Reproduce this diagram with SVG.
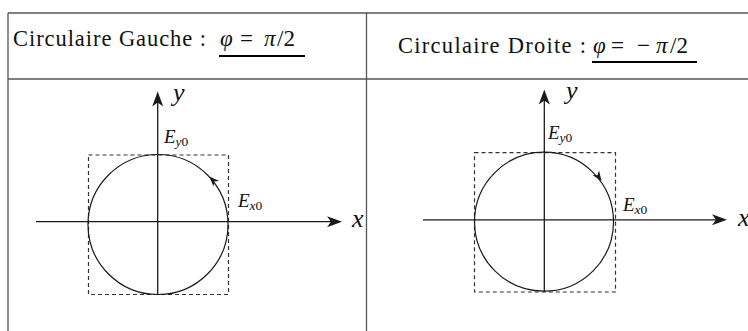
<svg xmlns="http://www.w3.org/2000/svg" width="748" height="331" viewBox="0 0 748 331">
<style>
.tbl{stroke:#555;stroke-width:1.3;fill:none}
.ax{stroke:#1a1a1a;stroke-width:1.3;fill:none}
.circ{stroke:#1a1a1a;stroke-width:1.2;fill:none}
.dash{stroke:#333;stroke-width:1.2;fill:none;stroke-dasharray:4 3}
.head{fill:#1a1a1a;stroke:none}
.ul{stroke:#000;stroke-width:2}
</style>
<defs>
<path id="bigHead" d="M0,0 L-15,-5.5 L-11,0 L-15,5.5 Z"/>
<path id="smallHead" d="M0,0 L-10,-4 L-7,0 L-10,4 Z"/>
</defs>
<rect width="748" height="331" fill="#fff"/>
<g id="table">
<line class="tbl" x1="8" y1="13" x2="748" y2="13"/>
<line class="tbl" x1="8" y1="79" x2="748" y2="79"/>
<line class="tbl" x1="8" y1="13" x2="8" y2="331"/>
<line class="tbl" x1="366.5" y1="13" x2="366.5" y2="331"/>
</g>
<g id="header-left" fill="#111">
<text x="13" y="46" font-family="Liberation Serif" font-size="22.5" textLength="193" lengthAdjust="spacing">Circulaire Gauche :</text>
<text x="220" y="46" font-family="Liberation Serif" font-size="23"><tspan font-style="italic">φ</tspan><tspan x="240">=</tspan><tspan font-style="italic" x="264">π</tspan><tspan x="277">/2</tspan></text>
<line class="ul" x1="219" y1="56" x2="305" y2="56"/>
</g>
<g id="header-right" fill="#111">
<text x="398" y="53" font-family="Liberation Serif" font-size="22.5" textLength="188" lengthAdjust="spacing">Circulaire Droite :</text>
<text x="593" y="53" font-family="Liberation Serif" font-size="23"><tspan font-style="italic">φ</tspan><tspan x="611">=</tspan><tspan x="637">−</tspan><tspan font-style="italic" x="656">π</tspan><tspan x="670">/2</tspan></text>
<line class="ul" x1="592" y1="62" x2="697" y2="62"/>
</g>
<g id="left-diagram" fill="#111">
<rect class="dash" x="88.5" y="155" width="140" height="139.5"/>
<circle class="circ" cx="158" cy="224.5" r="70"/>
<line class="ax" x1="36" y1="221.7" x2="335" y2="221.7"/>
<line class="ax" x1="157.7" y1="294.5" x2="157.7" y2="99"/>
<use href="#bigHead" class="head" transform="translate(342,221.7)"/>
<use href="#bigHead" class="head" transform="translate(157.7,91.5) rotate(-90)"/>
<use href="#smallHead" class="head" transform="translate(209.5,176.5) rotate(-133)"/>
<text x="173" y="101" font-family="Liberation Serif" font-style="italic" font-size="26">y</text>
<text x="164" y="143" font-family="Liberation Serif" font-size="19"><tspan font-style="italic">E</tspan><tspan font-size="13.5" dy="3"><tspan font-style="italic">y</tspan>0</tspan></text>
<text x="238" y="206.5" font-family="Liberation Serif" font-size="19"><tspan font-style="italic">E</tspan><tspan font-size="13.5" dy="3"><tspan font-style="italic">x</tspan>0</tspan></text>
<text x="352" y="227" font-family="Liberation Serif" font-style="italic" font-size="26">x</text>
</g>
<g id="right-diagram" fill="#111">
<rect class="dash" x="474.5" y="152.7" width="141" height="139.3"/>
<circle class="circ" cx="544" cy="221.7" r="69.5"/>
<line class="ax" x1="423" y1="219.8" x2="720" y2="219.8"/>
<line class="ax" x1="544.3" y1="291.7" x2="544.3" y2="97"/>
<use href="#bigHead" class="head" transform="translate(727,219.8)"/>
<use href="#bigHead" class="head" transform="translate(544.3,89.5) rotate(-90)"/>
<use href="#smallHead" class="head" transform="translate(601.5,181) rotate(55)"/>
<text x="566" y="99" font-family="Liberation Serif" font-style="italic" font-size="26">y</text>
<text x="548" y="138.5" font-family="Liberation Serif" font-size="19"><tspan font-style="italic">E</tspan><tspan font-size="13.5" dy="3"><tspan font-style="italic">y</tspan>0</tspan></text>
<text x="623" y="211" font-family="Liberation Serif" font-size="19"><tspan font-style="italic">E</tspan><tspan font-size="13.5" dy="3"><tspan font-style="italic">x</tspan>0</tspan></text>
<text x="738" y="226" font-family="Liberation Serif" font-style="italic" font-size="26">x</text>
</g>
</svg>
